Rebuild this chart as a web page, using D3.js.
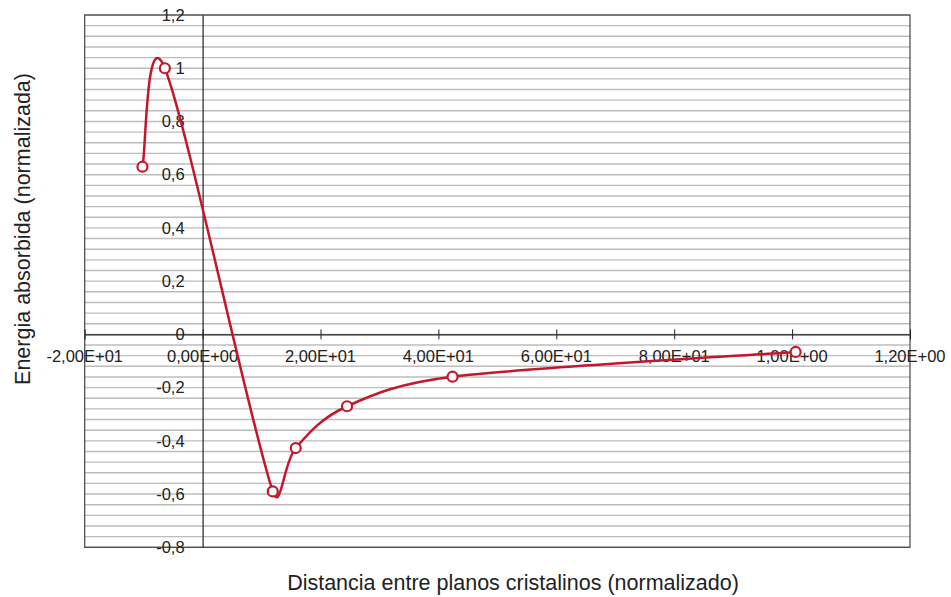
<!DOCTYPE html>
<html><head><meta charset="utf-8">
<script src="https://cdn.jsdelivr.net/npm/d3@7"></script>
<style>
html,body{margin:0;padding:0;background:#fff;}
text{font-family:"Liberation Sans",Arial,Helvetica,sans-serif;fill:#222;}
</style></head>
<body><svg id="c" width="951" height="597"></svg>
<script>
const xValues = [-10.2, -6.4, 11.9, 15.8, 24.5, 42.4, 100.6];
const yValues = [0.63, 1.0, -0.59, -0.427, -0.27, -0.159, -0.066];
const xTicks = [-20, 0, 20, 40, 60, 80, 100, 120];
const xTickLabels = ["-2,00E+01","0,00E+00","2,00E+01","4,00E+01","6,00E+01","8,00E+01","1,00E+00","1,20E+00"];
const yTicks = [-0.8, -0.6, -0.4, -0.2, 0, 0.2, 0.4, 0.6, 0.8, 1, 1.2];
const yTickLabels = ["-0,8","-0,6","-0,4","-0,2","0","0,2","0,4","0,6","0,8","1","1,2"];
const xTitle = "Distancia entre planos cristalinos (normalizado)";
const yTitle = "Energia absorbida (normalizada)";

const svg = d3.select("#c");
const L = 84.7, R = 910, T = 15, B = 547.3;
const x = d3.scaleLinear().domain([-20, 120]).range([L, R]);
const y = d3.scaleLinear().domain([-0.8, 1.2]).range([B, T]);

// minor gridlines every 0.04
const grid = d3.range(0, 51).map(i => -0.8 + i * 0.04);
svg.append("g").selectAll("line").data(grid).join("line")
  .attr("x1", L).attr("x2", R)
  .attr("y1", d => y(d)).attr("y2", d => y(d))
  .attr("stroke", "#bcbcbc").attr("stroke-width", 1.4);

// frame
svg.append("rect").attr("x", L).attr("y", T).attr("width", R - L).attr("height", B - T)
  .attr("fill", "none").attr("stroke", "#444").attr("stroke-width", 1.2);

// x axis at y=0
const xAxis = d3.axisBottom(x).tickValues(xTicks).tickFormat(() => "").tickSizeInner(5).tickSizeOuter(0);
const gx = svg.append("g").attr("transform", `translate(0,${y(0)})`).call(xAxis);
gx.select(".domain").attr("stroke", "#222").attr("stroke-width", 1.2);
gx.selectAll(".tick line").attr("stroke", "#222").attr("y1", -5).attr("y2", 5);
svg.append("g").selectAll("text").data(xTicks).join("text")
  .attr("x", d => x(d)).attr("y", y(0) + 28)
  .attr("text-anchor", "middle").attr("font-size", 16.5)
  .text((d, i) => xTickLabels[i]);

// y axis at x=0
const yAxis = d3.axisLeft(y).tickValues(yTicks).tickFormat(() => "").tickSize(0);
const gy = svg.append("g").attr("transform", `translate(${x(0)},0)`).call(yAxis);
gy.select(".domain").attr("stroke", "#222").attr("stroke-width", 1.2);
svg.append("g").selectAll("text").data(yTicks).join("text")
  .attr("x", x(0) - 18).attr("y", d => y(d)).attr("dy", "0.35em")
  .attr("text-anchor", "end").attr("font-size", 16.5)
  .text((d, i) => yTickLabels[i]);

// Excel-style smoothed line: Bezier with tangent (p[i+1]-p[i-1])/6, arm limited to half the segment
function excelSmooth(P) {
  const p = d3.path();
  const dist = (a, b) => Math.hypot(b[0] - a[0], b[1] - a[1]);
  p.moveTo(P[0][0], P[0][1]);
  for (let i = 0; i < P.length - 1; i++) {
    const p0 = P[Math.max(i - 1, 0)], p1 = P[i], p2 = P[i + 1], p3 = P[Math.min(i + 2, P.length - 1)];
    const d12 = dist(p1, p2);
    const d02 = dist(p0, p2), d13 = dist(p1, p3);
    let f1 = 1 / 6, f2 = 1 / 6;
    if (d02 / 6 > d12 / 2) f1 = d02 > 0 ? (d12 / 2) / d02 : 0;
    if (d13 / 6 > d12 / 2) f2 = d13 > 0 ? (d12 / 2) / d13 : 0;
    const c1 = [p1[0] + (p2[0] - p0[0]) * f1, p1[1] + (p2[1] - p0[1]) * f1];
    const c2 = [p2[0] - (p3[0] - p1[0]) * f2, p2[1] - (p3[1] - p1[1]) * f2];
    p.bezierCurveTo(c1[0], c1[1], c2[0], c2[1], p2[0], p2[1]);
  }
  return p.toString();
}

const pts = xValues.map((v, i) => [v, yValues[i]]);
const scaled = pts.map(d => [x(d[0]), y(d[1])]);
svg.append("path").attr("d", excelSmooth(scaled)).attr("fill", "none")
  .attr("stroke", "#c4172c").attr("stroke-width", 2.5);
svg.append("g").selectAll("circle").data(pts).join("circle")
  .attr("cx", d => x(d[0])).attr("cy", d => y(d[1])).attr("r", 5)
  .attr("fill", "#fff").attr("stroke", "#c4172c").attr("stroke-width", 2.2);

// titles
svg.append("text").attr("x", 513).attr("y", 590).attr("text-anchor", "middle")
  .attr("font-size", 21.5).text(xTitle);
svg.append("text").attr("transform", "translate(22,229) rotate(-90)").attr("text-anchor", "middle")
  .attr("dy", "0.35em").attr("font-size", 21.5).text(yTitle);
</script></body></html>
